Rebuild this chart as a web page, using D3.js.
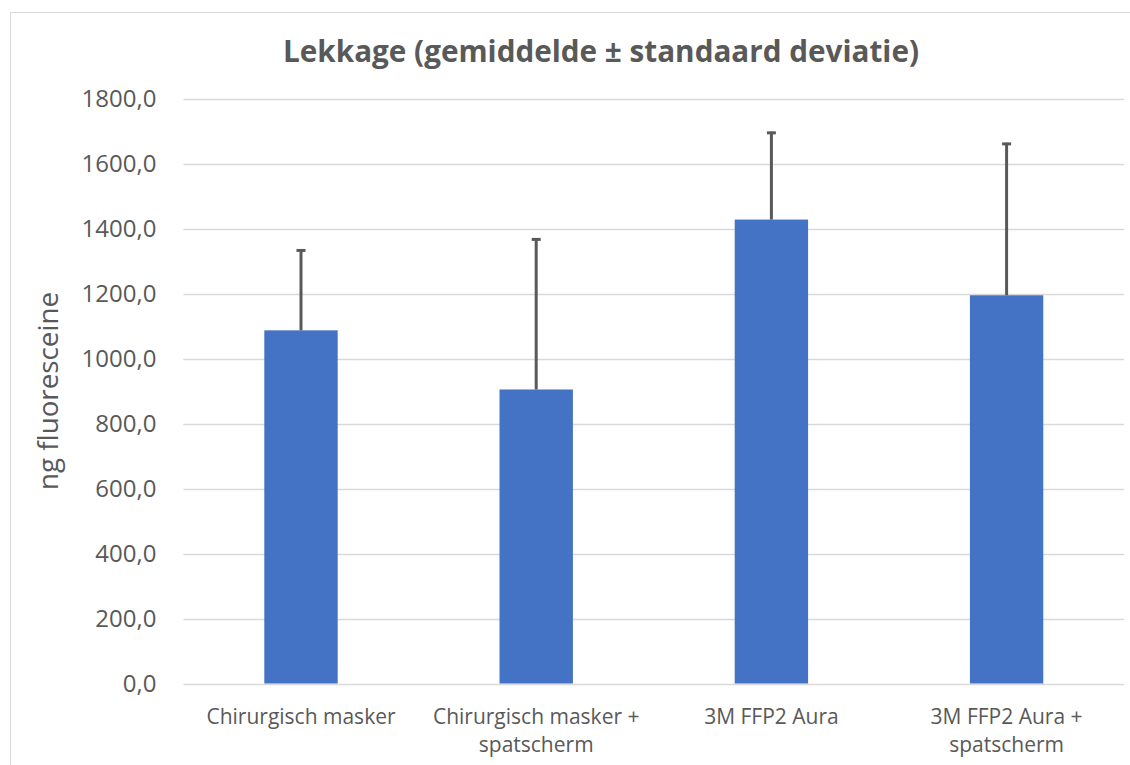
<!DOCTYPE html>
<html>
<head>
<meta charset="utf-8">
<script src="https://cdn.jsdelivr.net/npm/d3@7"></script>
<style>
  html, body { margin: 0; padding: 0; background: #fff; }
  svg { display: block; }
  text { font-family: "Open Sans", "DejaVu Sans", sans-serif; fill: #595959; }
</style>
</head>
<body>
<svg id="chart" width="1130" height="765"></svg>
<script>
// ---- data ----
const categories = ["Chirurgisch masker", "Chirurgisch masker + spatscherm", "3M FFP2 Aura", "3M FFP2 Aura + spatscherm"];
const means = [1087, 905, 1428, 1195];
const stdevs = [249, 465, 270, 469];
const yTicks = [0, 200, 400, 600, 800, 1000, 1200, 1400, 1600, 1800];
const titleText = "Lekkage (gemiddelde \u00B1 standaard deviatie)";
const yTitle = "ng fluoresceine";

// ---- layout ----
const svg = d3.select("#chart");
const plot = { left: 183.4, right: 1124.2, top: 98.7, bottom: 683.5 };

// chart frame
svg.append("rect")
  .attr("x", 10.5).attr("y", 12.5)
  .attr("width", 1200).attr("height", 800)
  .attr("fill", "#fff").attr("stroke", "#d9d9d9").attr("stroke-width", 1);

const x = d3.scaleBand()
  .domain(categories)
  .range([plot.left, plot.right])
  .paddingInner(0.688)
  .paddingOuter(0.344);

const y = d3.scaleLinear()
  .domain([0, 1800])
  .range([plot.bottom, plot.top]);

const nl = d3.formatLocale({ decimal: ",", thousands: ".", grouping: [3], currency: ["€", ""] });
const fmt = nl.format(".1f");

// gridlines
svg.append("g")
  .selectAll("line")
  .data(yTicks)
  .join("line")
  .attr("x1", plot.left).attr("x2", plot.right)
  .attr("y1", d => Math.round(y(d)) + 0.5).attr("y2", d => Math.round(y(d)) + 0.5)
  .attr("stroke", "#d9d9d9").attr("stroke-width", 1.3);

// y axis labels
const yAxis = d3.axisLeft(y).tickValues(yTicks).tickFormat(fmt).tickSize(0).tickPadding(27);
const gy = svg.append("g").attr("transform", `translate(${plot.left},0)`).call(yAxis);
gy.select(".domain").remove();
gy.selectAll("text")
  .style("font-family", "'Open Sans', sans-serif")
  .style("font-size", "24px")
  .attr("fill", "#595959");

// bars
svg.append("g")
  .selectAll("rect")
  .data(categories)
  .join("rect")
  .attr("x", d => x(d))
  .attr("width", x.bandwidth())
  .attr("y", (d, i) => y(means[i]))
  .attr("height", (d, i) => y(0) - y(means[i]))
  .attr("fill", "#4472C4");

// error bars (plus only)
const eg = svg.append("g").attr("stroke", "#595959").attr("stroke-width", 3);
eg.selectAll("line.stem")
  .data(categories)
  .join("line")
  .attr("class", "stem")
  .attr("x1", d => x(d) + x.bandwidth() / 2)
  .attr("x2", d => x(d) + x.bandwidth() / 2)
  .attr("y1", (d, i) => y(means[i]))
  .attr("y2", (d, i) => y(means[i] + stdevs[i]));
eg.selectAll("line.cap")
  .data(categories)
  .join("line")
  .attr("class", "cap")
  .attr("x1", d => x(d) + x.bandwidth() / 2 - 4.5)
  .attr("x2", d => x(d) + x.bandwidth() / 2 + 4.5)
  .attr("y1", (d, i) => y(means[i] + stdevs[i]) + 1)
  .attr("y2", (d, i) => y(means[i] + stdevs[i]) + 1);

// x axis category labels (wrapped after "+")
function wrapLabel(s) {
  const k = s.indexOf(" + ");
  return k >= 0 ? [s.slice(0, k + 2), s.slice(k + 3)] : [s];
}
const xl = svg.append("g");
categories.forEach(c => {
  const lines = wrapLabel(c);
  const t = xl.append("text")
    .attr("text-anchor", "middle")
    .attr("font-size", "21px")
    .attr("x", x(c) + x.bandwidth() / 2)
    .attr("y", 724);
  lines.forEach((ln, j) => {
    t.append("tspan")
      .attr("x", x(c) + x.bandwidth() / 2)
      .attr("dy", j === 0 ? 0 : 28)
      .text(ln);
  });
});

// y axis title
svg.append("text")
  .attr("transform", "translate(58,391) rotate(-90)")
  .attr("text-anchor", "middle")
  .attr("font-size", "28px")
  .attr("textLength", 198)
  .attr("lengthAdjust", "spacingAndGlyphs")
  .text(yTitle);

// chart title
svg.append("text")
  .attr("x", 601)
  .attr("y", 62)
  .attr("text-anchor", "middle")
  .attr("font-size", "31px")
  .attr("font-weight", "bold")
  .attr("textLength", 636)
  .attr("lengthAdjust", "spacingAndGlyphs")
  .text(titleText);
</script>
</body>
</html>
